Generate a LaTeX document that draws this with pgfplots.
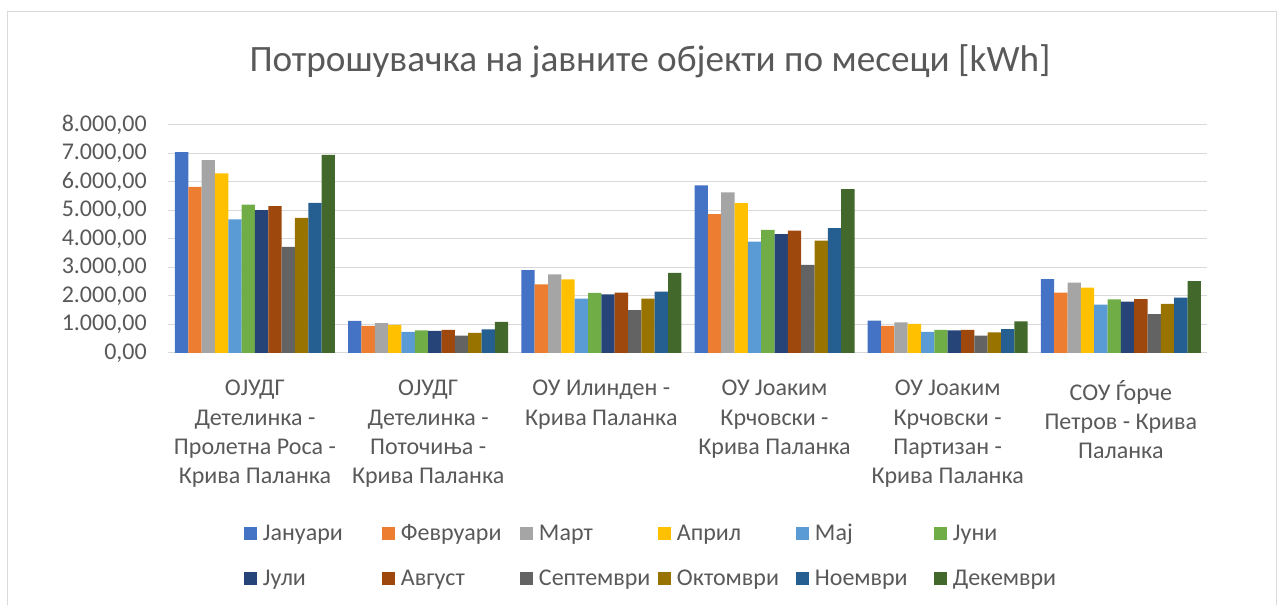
\documentclass[border=0pt]{standalone}
\usepackage{pgfplots}
\pgfplotsset{compat=1.18}
\usepackage{pgfplotstable}
\usepackage{fontspec}
\setmainfont{Carlito}
\definecolor{txt}{HTML}{595959}
\definecolor{gridc}{HTML}{D9D9D9}
\definecolor{cJan}{HTML}{4472C4}
\definecolor{cFeb}{HTML}{ED7D31}
\definecolor{cMar}{HTML}{A5A5A5}
\definecolor{cApr}{HTML}{FFC000}
\definecolor{cMay}{HTML}{5B9BD5}
\definecolor{cJun}{HTML}{70AD47}
\definecolor{cJul}{HTML}{264478}
\definecolor{cAug}{HTML}{9E480E}
\definecolor{cSep}{HTML}{636363}
\definecolor{cOct}{HTML}{997300}
\definecolor{cNov}{HTML}{255E91}
\definecolor{cDec}{HTML}{43682B}
\pgfplotstableread{
x Jan Feb Mar Apr May Jun Jul Aug Sep Oct Nov Dec
0 7050 5830 6770 6300 4690 5210 5010 5150 3720 4740 5270 6950
1 1130 950 1050 990 740 790 780 810 610 710 830 1090
2 2910 2410 2760 2580 1910 2110 2060 2120 1500 1910 2150 2810
3 5880 4870 5640 5260 3910 4320 4170 4290 3090 3940 4380 5750
4 1140 950 1070 1020 740 810 790 810 610 720 840 1110
5 2590 2120 2470 2290 1700 1880 1800 1890 1360 1720 1940 2520
}\data
\begin{document}
\begin{tikzpicture}
\path[use as bounding box] (0,0) rectangle (962.25pt,453.75pt);
\draw[gridc, line width=0.75pt] (5.25pt,-5pt) -- (5.25pt,444.75pt) -- (957pt,444.75pt) -- (957pt,-5pt);
\node[anchor=base, font=\fontsize{27.9}{33}\selectfont, text=txt, inner sep=0pt] at (487.5pt,399.75pt) {Потрошувачка на јавните објекти по месеци [kWh]};
\begin{axis}[
  at={(126.3pt,189pt)}, anchor=south west,
  scale only axis, width=779.3pt, height=171pt,
  ybar=0pt, bar width=0.077,
  enlargelimits=false,
  xmin=-0.5, xmax=5.5, ymin=0, ymax=8000,
  xtick={0,1,2,3,4,5},
  xticklabels={
    {ОЈУДГ\\Детелинка -\\Пролетна Роса -\\Крива Паланка},
    {ОЈУДГ\\Детелинка -\\Поточиња -\\Крива Паланка},
    {ОУ Илинден -\\Крива Паланка},
    {ОУ Јоаким\\Крчовски -\\Крива Паланка},
    {ОУ Јоаким\\Крчовски -\\Партизан -\\Крива Паланка},
    {СОУ Ѓорче\\Петров - Крива\\Паланка}},
  ytick={0,1000,2000,3000,4000,5000,6000,7000,8000},
  yticklabels={{0,00},{1.000,00},{2.000,00},{3.000,00},{4.000,00},{5.000,00},{6.000,00},{7.000,00},{8.000,00}},
  ymajorgrids, grid style={draw=gridc, line width=0.75pt},
  axis line style={draw=none}, major tick length=0pt,
  tick label style={font=\fontsize{18}{22}\selectfont, text=txt},
  yticklabel style={anchor=east, inner sep=0pt, xshift=-16pt},
  xticklabel style={anchor=north, align=center, inner sep=0pt, yshift=-20.25pt},
  legend columns=6,
  legend cell align=left,
  legend image code/.code={\fill[#1] (0pt,-3.6pt) rectangle (9.75pt,6.15pt);},
  legend style={at={(0.07276,-0.7482)}, anchor=north west, draw=none, fill=none,
    inner sep=0pt, outer sep=0pt, row sep=16.75pt, column sep=0pt,
    font=\fontsize{18}{22}\selectfont, text=txt,
    nodes={inner sep=0pt, text height=13pt, text depth=4pt, text width=89.25pt, align=left},
    /tikz/every odd column/.append style={column sep=4.5pt}},
]
\addplot[fill=cJan, draw=none] table[x=x, y=Jan] {\data};
\addplot[fill=cFeb, draw=none] table[x=x, y=Feb] {\data};
\addplot[fill=cMar, draw=none] table[x=x, y=Mar] {\data};
\addplot[fill=cApr, draw=none] table[x=x, y=Apr] {\data};
\addplot[fill=cMay, draw=none] table[x=x, y=May] {\data};
\addplot[fill=cJun, draw=none] table[x=x, y=Jun] {\data};
\addplot[fill=cJul, draw=none] table[x=x, y=Jul] {\data};
\addplot[fill=cAug, draw=none] table[x=x, y=Aug] {\data};
\addplot[fill=cSep, draw=none] table[x=x, y=Sep] {\data};
\addplot[fill=cOct, draw=none] table[x=x, y=Oct] {\data};
\addplot[fill=cNov, draw=none] table[x=x, y=Nov] {\data};
\addplot[fill=cDec, draw=none] table[x=x, y=Dec] {\data};
\legend{Јануари, Февруари, Март, Април, Мај, Јуни, Јули, Август, Септември, Октомври, Ноември, Декември}
\end{axis}
\end{tikzpicture}
\end{document}
